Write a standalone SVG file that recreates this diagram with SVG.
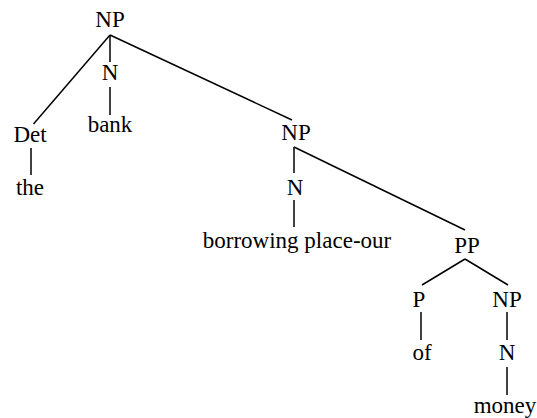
<svg xmlns="http://www.w3.org/2000/svg" width="537" height="418" viewBox="0 0 537 418">
<style>
text{font-family:"Liberation Serif","Times New Roman",serif;font-size:23px;fill:#000;text-anchor:middle}
line{stroke:#000;stroke-width:1.5}
</style>
<rect width="537" height="418" fill="#fff"/>
<g id="connectors">
<line x1="110" y1="35" x2="33.5" y2="124"/>
<line x1="110" y1="35" x2="110" y2="62"/>
<line x1="110" y1="87" x2="110" y2="115"/>
<line x1="110" y1="35" x2="292" y2="120"/>
<line x1="31" y1="148" x2="31" y2="175"/>
<line x1="294" y1="147" x2="294" y2="173"/>
<line x1="294" y1="200" x2="294" y2="227"/>
<line x1="294" y1="147" x2="465" y2="230"/>
<line x1="465" y1="259" x2="422" y2="285"/>
<line x1="465" y1="259" x2="508" y2="285"/>
<line x1="421" y1="312" x2="421" y2="340"/>
<line x1="507" y1="312" x2="507" y2="340"/>
<line x1="507" y1="367" x2="507" y2="395"/>
</g>
<g id="np1"><text x="110" y="27">NP</text></g>
<g id="n1"><text x="110" y="80">N</text></g>
<g id="bank"><text x="110" y="132">bank</text></g>
<g id="det"><text x="30" y="142">Det</text></g>
<g id="the"><text x="30" y="195">the</text></g>
<g id="np2"><text x="296" y="140">NP</text></g>
<g id="n2"><text x="295" y="195">N</text></g>
<g id="borrowing"><text x="297" y="248">borrowing place-our</text></g>
<g id="pp"><text x="467" y="253">PP</text></g>
<g id="p"><text x="419" y="307">P</text></g>
<g id="np3"><text x="507" y="307">NP</text></g>
<g id="of"><text x="422" y="360">of</text></g>
<g id="n3"><text x="507" y="360">N</text></g>
<g id="money"><text x="505" y="413">money</text></g>
</svg>
